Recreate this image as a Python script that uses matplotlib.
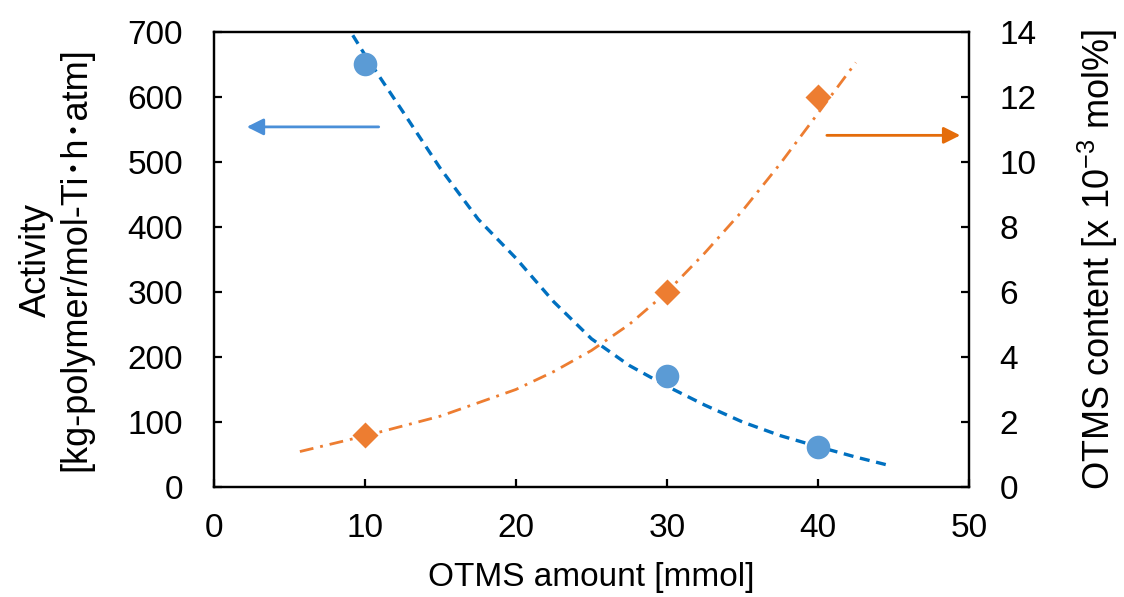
import numpy as np
import matplotlib.pyplot as plt

plt.rcParams['font.family'] = ['Liberation Sans', 'Noto Sans CJK JP', 'DejaVu Sans']
plt.rcParams['mathtext.fontset'] = 'custom'
plt.rcParams['mathtext.rm'] = 'Liberation Sans'
plt.rcParams['mathtext.default'] = 'regular'

# measured points
otms_amount = [10, 30, 40]
activity = [650, 170, 62]
otms_content = [1.6, 6.0, 12.0]

# trendlines
act_trend_x = [9.2, 10, 12.5, 15, 17.5, 20, 22.5, 25, 27.5, 30, 32.5, 35, 37.5, 40, 42.5, 44.9]
act_trend_y = [695, 665, 578, 490, 412, 352, 285, 228, 187, 155, 126, 100, 79, 62, 46, 32]
cont_trend_x = [5.7, 10, 15, 20, 22.5, 25, 27.5, 30, 32.5, 35, 37.5, 40, 42.5]
cont_trend_y = [1.09, 1.57, 2.18, 3.0, 3.55, 4.2, 5.0, 6.0, 7.2, 8.5, 9.95, 11.5, 13.06]

x_ticks = [0, 10, 20, 30, 40, 50]
left_ticks = [0, 100, 200, 300, 400, 500, 600, 700]
right_ticks = [0, 2, 4, 6, 8, 10, 12, 14]

fig = plt.figure(figsize=(11.24, 5.97), dpi=100)
ax = fig.add_axes([0.1902, 0.1843, 0.6720, 0.7621])
ax2 = ax.twinx()

ax.plot(act_trend_x, act_trend_y, color='#0070C0', lw=2.4, ls=(0, (3, 2.0)), zorder=2)
ax.plot(otms_amount, activity, 'o', color='#5B9BD5', ms=17, mec='none', zorder=3)

ax2.plot(cont_trend_x, cont_trend_y, color='#ED7D31', lw=2.0, ls=(0, (5, 2.5, 1, 2.5)), zorder=2)
ax2.plot(otms_amount, otms_content, 'D', color='#ED7D31', ms=13, mec='none', zorder=3)

ax.set_xlim(0, 50)
ax.set_ylim(0, 700)
ax2.set_ylim(0, 14)
ax.set_xticks(x_ticks)
ax.set_yticks(left_ticks)
ax2.set_yticks(right_ticks)

fs = 24
for a in (ax, ax2):
    for s in a.spines.values():
        s.set_linewidth(1.6)
ax.tick_params(axis='both', direction='in', length=6, width=1.6, labelsize=fs)
ax.tick_params(axis='y', pad=22)
ax.tick_params(axis='x', pad=19)
ax2.tick_params(axis='y', direction='in', length=6, width=1.6, labelsize=fs, pad=22)

ax.set_xlabel('OTMS amount [mmol]', fontsize=fs, labelpad=13)
ax.set_ylabel('Activity\n[kg-polymer/mol-Ti\uff65h\uff65atm]', fontsize=26, linespacing=1.15, labelpad=25)
ax2.set_ylabel('OTMS content [x 10$^{\u22123}$ mol%]', fontsize=26, labelpad=28)

# arrows pointing to the matching axis
ax.annotate('', xy=(2.0, 554), xytext=(11.1, 554),
            arrowprops=dict(arrowstyle='-|>', color='#4A8FD8', lw=2, mutation_scale=25))
ax.annotate('', xy=(49.6, 541), xytext=(40.4, 541),
            arrowprops=dict(arrowstyle='-|>', color='#E46C0A', lw=2, mutation_scale=25))

fig.savefig('out.png', dpi=100)
